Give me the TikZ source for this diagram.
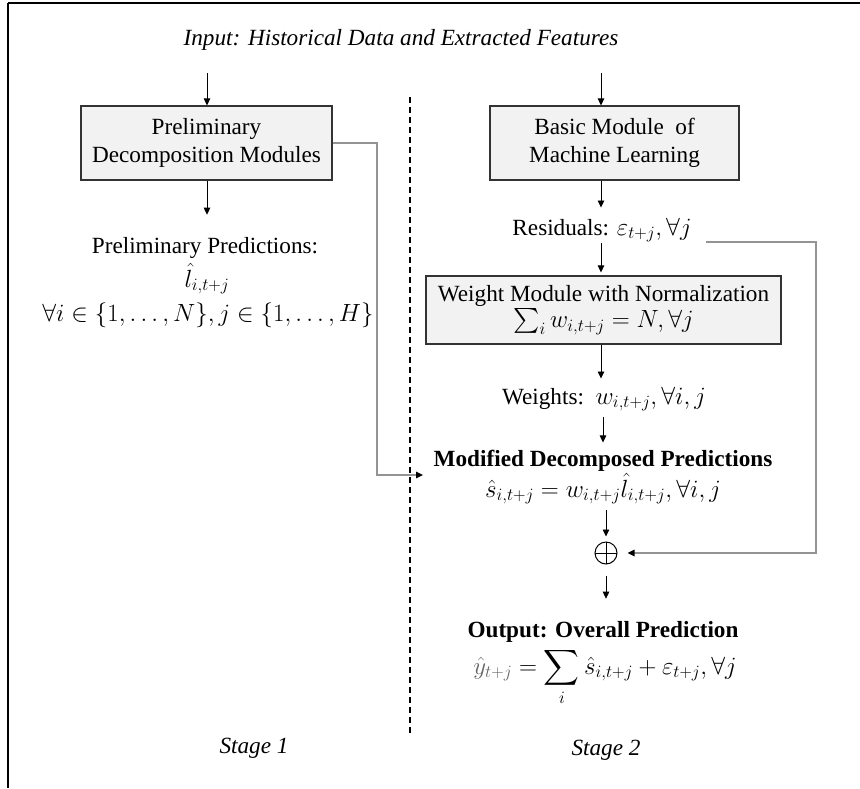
\documentclass[tikz,border=0pt]{standalone}
\usepackage{amsmath}
\usepackage{fontspec}
\setmainfont{Liberation Serif}
\usetikzlibrary{arrows.meta}
\begin{document}
\begin{tikzpicture}[x=1pt,y=-1pt,
  font=\fontsize{23.2}{28}\selectfont,
  modbox/.style={draw=black!80, line width=1.2pt, fill=black!5, inner sep=0pt, align=center},
  arr/.style={-{Triangle[length=7pt,width=6.5pt]}, line width=0.8pt},
  fb/.style={draw=black!42, line width=1.1pt, -{Triangle[length=7pt,width=6.5pt,color=black]}},
  lbl/.style={anchor=base, inner sep=0pt, align=center}]
\useasboundingbox (0,0) rectangle (860,788);
% frame (top and left edges)
\draw[line width=2pt] (8,3) -- (860,3);
\draw[line width=2pt] (8,3) -- (8,788);
% stage separator
\draw[line width=1.3pt, dash pattern=on 6pt off 4pt] (410,97) -- (410,735);
% columns
\coordinate (colL) at (207,0);
\coordinate (colR) at (601,0);
\coordinate (colM) at (603,0);
\coordinate (colP) at (606,0);
% texts and boxes
\node[lbl] (input) at (401,45) {\itshape Input: Historical Data and Extracted Features};
\node[modbox, minimum width=251pt, minimum height=74pt] (pre) at (206.5,143) {Preliminary\\Decomposition Modules};
\node[modbox, minimum width=249pt, minimum height=74pt] (basic) at (614.5,143) {Basic Module\ \ of\\Machine Learning};
\node[lbl] (pp) at (205,253) {Preliminary Predictions:};
\node[lbl] (lhat) at (207,287) {$\hat{l}_{i,t+j}$};
\node[lbl] (idx) at (208,321) {$\forall i \in \{1, \ldots, N\}, j \in \{1, \ldots, H\}$};
\node[lbl] (res) at (602,235) {Residuals: $\varepsilon_{t+j}, \forall j$};
\node[modbox, minimum width=355pt, minimum height=68pt] (weight) at (603.5,310) {Weight Module with Normalization\\[-2pt]$\textstyle\sum_i w_{i,t+j} = N, \forall j$};
\node[lbl] (wts) at (604,404) {Weights:\ \ $w_{i,t+j}, \forall i, j$};
\node[lbl] (mod) at (603,466) {\bfseries Modified Decomposed Predictions};
\node[lbl] (modf) at (603,497) {$\hat{s}_{i,t+j} = w_{i,t+j}\hat{l}_{i,t+j}, \forall i, j$};
\node[draw, circle, line width=1pt, minimum size=22pt, inner sep=0pt,
  path picture={\draw[line width=1pt] (path picture bounding box.north) -- (path picture bounding box.south)
  (path picture bounding box.west) -- (path picture bounding box.east);}] (plus) at (606,553) {};
\node[lbl] (out) at (603,637) {\bfseries Output: Overall Prediction};
\node[lbl] (outf) at (605,674) {$\color{black!60}\hat{y}_{t+j}\color{black} = \displaystyle\sum_i \hat{s}_{i,t+j} + \varepsilon_{t+j}, \forall j$};
\node[lbl] (st1) at (254,753) {\itshape Stage 1};
\node[lbl] (st2) at (606,755) {\itshape Stage 2};
% connectors
\draw[arr, shorten <=23pt] (input.south -| colL) -- (pre.north -| colL);
\draw[arr, shorten <=23pt] (input.south -| colR) -- (basic.north -| colR);
\draw[arr, shorten >=22pt] (pre.south -| colL) -- (pp.north -| colL);
\draw[arr, shorten >=10pt] (basic.south -| colR) -- (res.north -| colR);
\draw[arr, shorten <=1pt, shorten >=3pt] (res.south -| colR) -- (weight.north -| colR);
\draw[arr, shorten >=8pt] (weight.south -| colR) -- (wts.north -| colR);
\draw[arr, shorten <=6pt, shorten >=7pt] (wts.south -| colM) -- (mod.north -| colM);
\draw[arr, shorten <=6pt, shorten >=5pt] (modf.south -| colP) -- (plus.north);
\draw[arr, shorten <=11pt, shorten >=22pt] (plus.south) -- (out.north -| colP);
% feedback connectors
\coordinate (c1) at (377,475);
\coordinate (c1e) at (423,475);
\draw[fb] (pre.east) -| (c1) -- (c1e);
\coordinate (c2s) at (706,242);
\coordinate (c2) at (816,242);
\draw[fb, shorten >=10pt] (c2s) -- (c2) |- (plus.east);
\end{tikzpicture}
\end{document}
